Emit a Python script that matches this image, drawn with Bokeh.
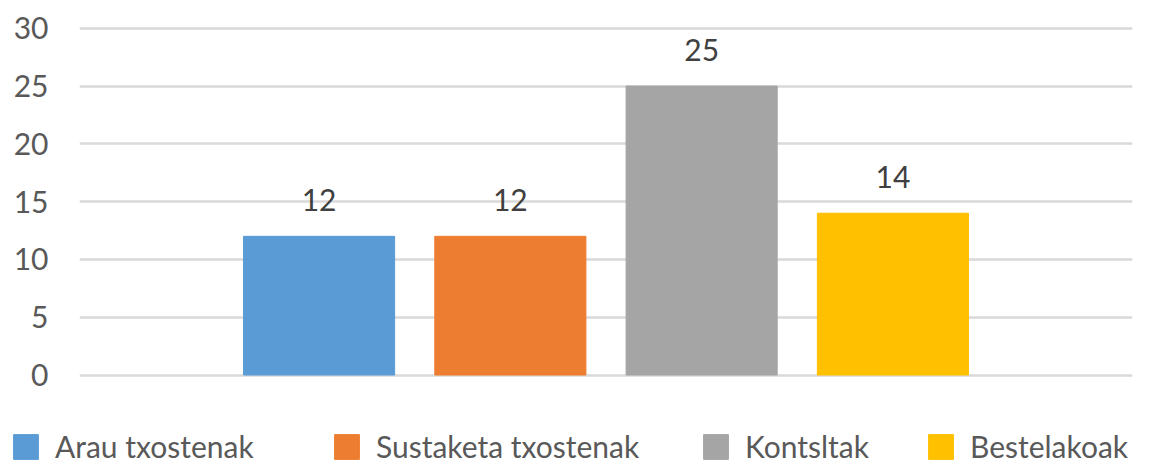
from bokeh.plotting import figure
from bokeh.layouts import column
from bokeh.models import ColumnDataSource, Range1d, FixedTicker, Legend, LegendItem
from bokeh.core.properties import value
from bokeh.embed import file_html
from bokeh.resources import INLINE

categories = ["Arau txostenak", "Sustaketa txostenak", "Kontsltak", "Bestelakoak"]
values = [12, 12, 25, 14]
colors = ["#5B9BD5", "#ED7D31", "#A5A5A5", "#FFC000"]
y_ticks = [0, 5, 10, 15, 20, 25, 30]

FONT = "Lato"

src = ColumnDataSource(dict(
    x=list(range(len(categories))),
    top=values,
    color=colors,
    label=[str(v) for v in values],
    name=categories,
))

x_rng = Range1d(1.5 - 2.7525, 1.5 + 2.7525)

p = figure(width=1165, height=400, output_backend="svg", toolbar_location=None,
           x_range=x_rng, y_range=Range1d(-2.206, 30.156),
           min_border_left=79, min_border_right=33, min_border_top=26, min_border_bottom=0,
           outline_line_color=None)
p.frame_align = False

r = p.vbar(x="x", top="top", bottom=0, width=0.79, color="color", source=src)

p.text(x="x", y="top", text="label", source=src, text_align="center",
       text_baseline="alphabetic", y_offset=-36, text_font=value(FONT),
       text_font_size="30px", text_color="#404040")

p.xaxis.visible = False
p.xgrid.grid_line_color = None
p.ygrid.ticker = FixedTicker(ticks=y_ticks)
p.ygrid.grid_line_color = "#D9D9D9"
p.ygrid.grid_line_width = 2.5

ya = p.yaxis[0]
ya.ticker = FixedTicker(ticks=y_ticks)
ya.axis_line_color = None
ya.major_tick_line_color = None
ya.minor_tick_line_color = None
ya.major_tick_in = 0
ya.major_tick_out = 0
ya.major_label_standoff = 31
ya.major_label_text_font = FONT
ya.major_label_text_font_size = "30px"
ya.major_label_text_color = "#595959"

# legend strip below the chart (its bars lie outside its ranges; only the legend shows)
lp = figure(width=1165, height=65, output_backend="svg", toolbar_location=None,
            x_range=Range1d(100, 200), y_range=Range1d(100, 200),
            x_axis_location=None, y_axis_location=None,
            min_border_left=0, min_border_right=0, min_border_top=0, min_border_bottom=0,
            outline_line_color=None)
lp.frame_align = False
lp.grid.visible = False
lr = lp.vbar(x="x", top="top", bottom=0, width=0.79, color="color", source=src)

legend_x = [10, 331, 700, 925]
for i, name in enumerate(categories):
    lg = Legend(items=[LegendItem(label=name, renderers=[lr], index=i)],
                location=(legend_x[i], 1), orientation="horizontal",
                padding=0, margin=0, border_line_color=None, background_fill_alpha=0,
                glyph_width=31, glyph_height=31, label_standoff=14,
                label_text_font=FONT, label_text_font_size="30px",
                label_text_color="#595959")
    lp.add_layout(lg)

layout = column(p, lp, spacing=0)
open("out.html", "w").write(file_html(layout, INLINE))
